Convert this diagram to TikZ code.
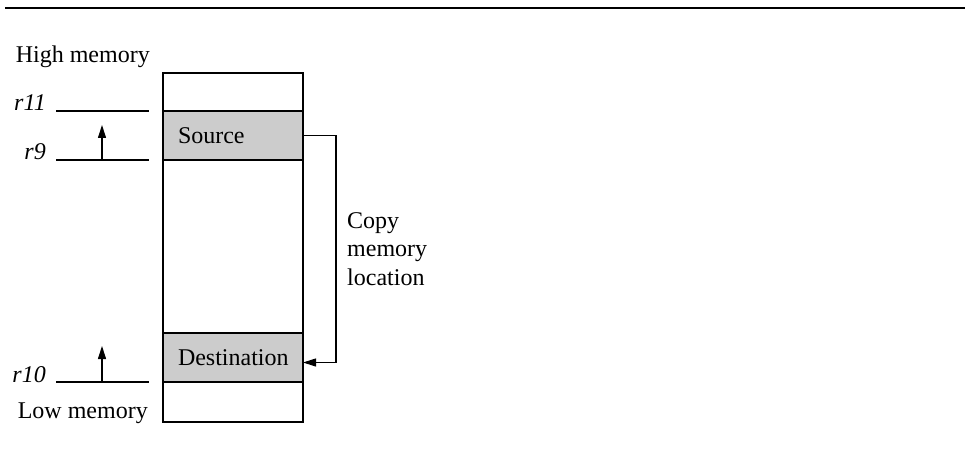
\documentclass[tikz,border=0pt]{standalone}
\usepackage{fontspec}
\setmainfont{Liberation Serif}
\usetikzlibrary{positioning, arrows.meta}

\begin{document}
\begin{tikzpicture}[
        x=1pt, y=-1pt,
        every node/.style={font=\fontsize{24}{28.5}\selectfont},
        cell/.style={rectangle, draw, line width=1.6pt, outer sep=0pt, minimum width=140pt, text width=110pt, inner xsep=15pt, align=left},
        block/.style={cell, fill=gray!40},
        reg/.style={font=\fontsize{24}{28.5}\selectfont\itshape, anchor=base east, inner sep=0pt},
        ptr/.style={line width=1.1pt},
        edge/.style={-{Triangle[length=13pt, width=8pt]}, line width=1.1pt}
    ]
        \useasboundingbox (0,0) rectangle (965,457);
        % Top rule
        \draw[line width=2pt] (5,8.5) -- (965,8.5);
        % Memory cells
        \node[cell, minimum height=38pt, anchor=north] (top) at (233,73) {};
        \node[block, minimum height=49pt, below=0pt of top] (src) {Source};
        \node[cell, minimum height=173pt, below=0pt of src] (mid) {};
        \node[block, minimum height=49pt, below=0pt of mid] (dst) {Destination};
        \node[cell, minimum height=40pt, below=0pt of dst] (bot) {};
        % Memory ends
        \node[anchor=base east, inner sep=0pt] (high) at (150,63) {High memory};
        \node[anchor=base east, inner sep=0pt] (low) at (148,418) {Low memory};
        % Registers
        \node[reg] (r11) at (46,111) {r11};
        \node[reg] (r9) at (46,160) {r9};
        \node[reg] (r10) at (46,382) {r10};
        \draw[ptr] ([xshift=10pt]r11.base east) -- ([xshift=-14pt]r11.base east -| src.west);
        \draw[ptr] ([xshift=10pt]r9.base east) -- ([xshift=-14pt]r9.base east -| src.west);
        \draw[ptr] ([xshift=10pt]r10.base east) -- ([xshift=-14pt]r10.base east -| dst.west);
        % Direction arrows
        \coordinate (p9) at (102,160);
        \coordinate (p10) at (102,382);
        \draw[edge] (p9) -- ++(0,-35);
        \draw[edge] (p10) -- ++(0,-36);
        % Copy
        \draw[edge] (src.east) -- ++(33,0) |- ([yshift=-5pt]dst.east);
        \node[anchor=north west, inner sep=0pt, align=left] (copy) at (347,212) {Copy\\memory\\location};
    \end{tikzpicture}
\end{document}
